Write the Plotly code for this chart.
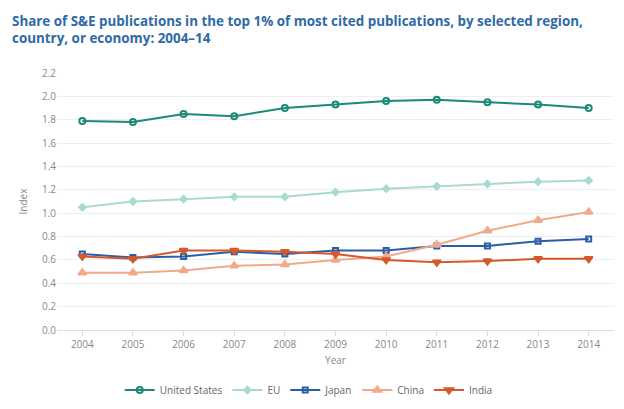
import plotly.graph_objects as go

years = ["2004", "2005", "2006", "2007", "2008", "2009", "2010", "2011", "2012", "2013", "2014"]
us = [1.79, 1.78, 1.85, 1.83, 1.90, 1.93, 1.96, 1.97, 1.95, 1.93, 1.90]
eu = [1.05, 1.10, 1.12, 1.14, 1.14, 1.18, 1.21, 1.23, 1.25, 1.27, 1.28]
japan = [0.65, 0.62, 0.63, 0.67, 0.65, 0.68, 0.68, 0.72, 0.72, 0.76, 0.78]
china = [0.49, 0.49, 0.51, 0.55, 0.56, 0.60, 0.63, 0.73, 0.85, 0.94, 1.01]
india = [0.63, 0.61, 0.68, 0.68, 0.67, 0.65, 0.60, 0.58, 0.59, 0.61, 0.61]
y_ticks = [0.0, 0.2, 0.4, 0.6, 0.8, 1.0, 1.2, 1.4, 1.6, 1.8, 2.0, 2.2]

series = [
    ("United States", us, "#1b8a78", "circle-open", 6),
    ("EU", eu, "#a9dad2", "diamond", 5),
    ("Japan", japan, "#2a5ea8", "square-open", 5),
    ("China", china, "#f2a98a", "triangle-up", 7),
    ("India", india, "#d5592a", "triangle-down", 7),
]

fig = go.Figure()
for name, vals, color, sym, sz in series:
    fig.add_trace(go.Scatter(
        x=years, y=vals, name=name, mode="lines+markers",
        line=dict(color=color, width=2),
        marker=dict(symbol=sym, size=sz, color=color, line=dict(color=color, width=2)),
    ))

font_family = "Open Sans, Noto Sans, sans-serif"
fig.add_annotation(
    text="<b>Share of S&E publications in the top 1% of most cited publications, by selected region,<br>country, or economy: 2004–14</b>",
    xref="paper", yref="paper", x=-0.0844, y=1.245, xanchor="left", yanchor="top",
    align="left", showarrow=False,
    font=dict(family=font_family, size=13.4, color="#2f6aa6"),
)
fig.update_layout(
    width=608, height=393,
    margin=dict(l=49, r=2, t=65, b=71, autoexpand=False),
    paper_bgcolor="white", plot_bgcolor="white",
    font=dict(family=font_family, color="#777777", size=10),
    legend=dict(orientation="h", x=0.452, xanchor="center",
                yref="container", y=0.028, yanchor="middle",
                font=dict(size=10, color="#666666")),
    showlegend=True,
)
fig.update_xaxes(
    type="category", range=[-0.5, 10.5],
    showgrid=False, showline=True, linecolor="#d8dde6", linewidth=1,
    ticks="outside", tickcolor="#d8dde6", ticklen=5,
    title=dict(text="Year", font=dict(size=10, color="#888888"), standoff=6),
    tickfont=dict(size=10, color="#888888"),
)
fig.update_yaxes(
    range=[0, 2.2], tickvals=y_ticks, tickformat=".1f",
    showgrid=True, gridcolor="#eceef2", gridwidth=1, zeroline=False,
    title=dict(text="Index", font=dict(size=10, color="#888888"), standoff=12),
    tickfont=dict(size=10, color="#888888"),
)
fig.write_html("out.html")
